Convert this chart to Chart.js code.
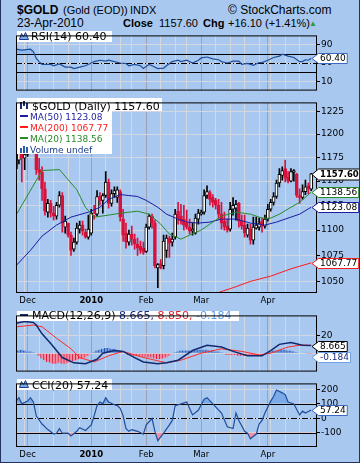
<!DOCTYPE html>
<html>
<head>
<meta charset="utf-8">
<title>$GOLD</title>
<script src="https://cdn.jsdelivr.net/npm/chart.js@4.4.0/dist/chart.umd.min.js"></script>
<style>
  html, body { margin: 0; padding: 0; }
  #wrap { position: relative; width: 360px; height: 463px; background: #a8c8f0; overflow: hidden; }
  #wrap::after { content: ""; position: absolute; left: 0; top: 0; right: 0; bottom: 0; border: 1px solid #233463; border-top: none; pointer-events: none; }
  canvas { position: absolute; left: 0; }
  .t { position: absolute; white-space: nowrap; line-height: 1; font-family: "Liberation Sans", Arial, sans-serif; color: #000; }
</style>
</head>
<body>
<div id="wrap">
  <div class="t" style="left:17px;top:4px;font-size:12px;font-weight:bold;">$GOLD</div>
  <div class="t" style="left:63px;top:5px;font-size:11px;">(Gold (EOD))</div>
  <div class="t" style="left:130px;top:5px;font-size:11px;">INDX</div>
  <div class="t" style="left:228px;top:4px;font-size:12px;">© StockCharts.com</div>
  <div class="t" style="left:17px;top:17px;font-size:12px;">23-Apr-2010</div>
  <div class="t" style="left:123px;top:18px;font-size:11px;font-weight:bold;">Close</div>
  <div class="t" style="left:159px;top:18px;font-size:11px;">1157.60</div>
  <div class="t" style="left:203px;top:18px;font-size:11px;font-weight:bold;">Chg</div>
  <div class="t" style="left:228px;top:18px;font-size:11px;">+16.10 (+1.41%)</div>
  <div class="t" style="left:309px;top:20px;font-size:8px;color:#2f9a2f;">▲</div>
  <canvas id="rsi" width="360" height="68" style="top:29px"></canvas>
  <canvas id="price" width="360" height="212" style="top:96px"></canvas>
  <canvas id="macd" width="360" height="69" style="top:309px"></canvas>
  <canvas id="cci" width="360" height="84" style="top:377px"></canvas>
</div>
<script>
// trading days shown on the chart
const months = [
  ['2009-11', [24, 25, 27, 30]],
  ['2009-12', [1, 2, 3, 4, 7, 8, 9, 10, 11, 14, 15, 16, 17, 18, 21, 22, 23, 24, 28, 29, 30, 31]],
  ['2010-01', [4, 5, 6, 7, 8, 11, 12, 13, 14, 15, 19, 20, 21, 22, 25, 26, 27, 28, 29]],
  ['2010-02', [1, 2, 3, 4, 5, 8, 9, 10, 11, 12, 16, 17, 18, 19, 22, 23, 24, 25, 26]],
  ['2010-03', [1, 2, 3, 4, 5, 8, 9, 10, 11, 12, 15, 16, 17, 18, 19, 22, 23, 24, 25, 26, 29, 30, 31]],
  ['2010-04', [1, 5, 6, 7, 8, 9, 12, 13, 14, 15, 16, 19, 20, 21, 22, 23]]
];
const monthNames = ['Jan', 'Feb', 'Mar', 'Apr', 'May', 'Jun', 'Jul', 'Aug', 'Sep', 'Oct', 'Nov', 'Dec'];

// daily candles
const opens = [1163,1172,1185,1174,1178,1199,1213,1211,1162,1159, 1142,1118,1127,1117,1114,1125,1135,1103,1107,1095,
  1081,1088,1101,1105,1098,1093,1097,1115,1116,1134, 1130,1135,1149,1127,1137,1133,1139,1111,1097,1088,
  1096,1091,1086,1084,1082,1079,1103,1114,1107,1063, 1067,1065,1080,1092,1088,1093,1119,1114,1111,1107,
  1103,1099,1097,1111,1116,1118,1135,1138,1133,1130, 1125,1116,1109,1104,1101,1121,1122,1127,1109,1105,
  1095,1101,1090,1102,1103,1109,1104,1111,1121,1128, 1134,1148,1156,1163,1154,1150,1159,1157,1135,1133,
  1139,1145,1141.5];
const highs = [1176,1188,1194,1182,1202,1216,1227,1217,1174,1165, 1149,1131,1130,1124,1128,1139,1138,1114,1107,1098,
  1092,1107,1109,1109,1101,1115,1121,1125,1140,1138, 1137,1160,1152,1141,1144,1144,1141,1121,1107,1100,
  1104,1096,1092,1089,1088,1106,1116,1116,1110,1067, 1071,1095,1095,1094,1097,1121,1128,1126,1125,1120,
  1111,1107,1116,1121,1120,1141,1145,1140,1136,1132, 1131,1128,1118,1111,1128,1133,1130,1128,1115,1115,
  1106,1106,1113,1113,1112,1112,1115,1126,1131,1138, 1151,1163,1165,1172,1160,1163,1162,1158,1142,1146,
  1151,1148,1158];
const lows = [1157,1168,1149,1162,1176,1195,1204,1157,1151,1130, 1115,1113,1113,1110,1111,1123,1098,1097,1093,1075,
  1079,1086,1097,1095,1092,1091,1095,1111,1114,1125, 1117,1133,1122,1124,1133,1128,1109,1089,1082,1085,
  1085,1081,1075,1077,1076,1078,1101,1102,1063,1044, 1062,1062,1073,1073,1084,1091,1106,1106,1100,1101,
  1096,1095,1096,1106,1115,1116,1132,1125,1123,1121, 1111,1101,1100,1098,1099,1115,1110,1103,1101,1093,
  1093,1086,1086,1101,1100,1098,1102,1109,1119,1125, 1132,1144,1151,1149,1148,1149,1150,1133,1127,1131,
  1136,1137,1140];
const closes = [1172,1185,1174,1178,1199,1213,1211,1162,1159,1142, 1119,1127,1117,1114,1125,1135,1107,1109,1095,1080,
  1088,1102,1105,1099,1093,1101,1117,1116,1134,1130, 1135,1149,1127,1137,1140,1141,1113,1095,1088,1096,
  1091,1086,1082,1080,1078,1103,1114,1107,1065,1066, 1063,1089,1092,1087,1091,1116,1112,1109,1105,1103,
  1099,1101,1112,1117,1118,1135,1139,1131,1128,1125, 1116,1107,1103,1100,1121,1125,1126,1109,1104,1097,
  1102,1090,1103,1105,1107,1104,1111,1121,1128,1134, 1148,1157,1161,1153,1150,1160,1161,1135,1133,1139,
  1144,1141.5,1157.6];

// moving averages, read at bar indices
const ma20Idx = [0, 9, 15, 21, 24, 27, 32, 36, 42, 46, 50, 53, 57, 60, 64, 67, 71, 76, 81, 85, 88, 91, 95, 98, 102];
const ma20Vals = [1115, 1161, 1162, 1141, 1123, 1113, 1115, 1117, 1119, 1116, 1106, 1096, 1091, 1095, 1100, 1106, 1114, 1118, 1116, 1112, 1112, 1116, 1123, 1128, 1138.56];
const ma50Idx = [0, 5, 9, 14, 19, 25, 29, 32, 36, 39, 42, 45, 49, 52, 56, 59, 63, 67, 71, 76, 81, 86, 90, 95, 98, 102];
const ma50Vals = [1065, 1080, 1094, 1105, 1113, 1118, 1123, 1131, 1136, 1135, 1134, 1130, 1123, 1116, 1111, 1108, 1107, 1108, 1111, 1111, 1107, 1105, 1108, 1113, 1116, 1123.08];
const ma200Idx = [64, 70, 75, 81, 88, 95, 102];
const ma200Vals = [1035, 1039.5, 1044, 1050, 1055, 1062, 1067.77];

// RSI(14)
const rsiIdx = [0,2,5,6,7,8,9,12,13,15, 17,19,20,22,24,26,27,29,31,32, 34,36,38,39,41,43,44,46,47,49,
  51,52,54,56,57,59,61,63,64,66, 68,70,71,73,75,77,78,80,82,84, 85,87,89,91,92,94,96,98,99,100, 101,102];
const rsiVals = [80,78,80,75,60,53,47,47,44,48, 41,41,38,41,44,50,53,56,54,56, 53,50,49,44,47,44,38,47,44,38,
  39,44,53,56,53,56,50,56,61,63, 59,57,53,50,54,54,47,49,45,51, 51,56,62,65,69,65,62,53,53,57, 56,60.4];

// MACD(12,26,9)
const macdIdx = [0, 3, 6, 7, 9, 12, 16, 20, 24, 28, 30, 34, 37, 41, 44, 49, 52, 56, 61, 66, 71, 75, 80, 85, 88, 91, 95, 99, 102];
const macdVals = [34, 36, 35, 32, 22, 11, -5, -11, -12, -7, 0, 3, 2, -5, -10, -12, -11, -8, 3, 9, 7, 2, -3, -3, 3, 10, 12, 9, 8.665];
const signalIdx = [0, 6, 9, 14, 19, 22, 27, 32, 37, 43, 48, 52, 57, 64, 71, 78, 84, 88, 94, 99, 102];
const signalVals = [30, 32, 30, 17, 5, -5, -10, -3, 2, -4, -8, -11, -8, 0, 5, 2, -2, 0, 7, 9.5, 8.85];
const macdHist = [3,3,4,3,2,2,1,0,
  -3,-6,-8,-10,-11,-12,-12,-11,-12,-12,-11,-10,-9,-8,-7,-6,-5,-3,
  -1,
  1,3,4,5,6,6,5,5,4,3,1,
  -1,-2,-3,-3,-3,-4,-4,-4,-5,-5,-6,-7,-7,-6,-5,-3,-1,
  1,2,3,3,3,3,3,3,4,4,4,4,3,3,2,2,1,
  -1,-2,-2,-2,-2,-3,-3,-3,-3,-3,-2,-2,-1,-1,-0.5,
  1,2,3,3,4,4,4,3,3,2,1,0.5,0,0.2,-0.1,-0.184];

// CCI(20)
const cciIdx = [0,1,2,4,5,6,7,9,11,13, 14,15,16,18,19,21,22,23,24,26, 27,28,29,30,31,32,34,35,36,37,
  38,39,40,42,44,45,47,48,49,51, 53,54,55,57,59,61,63,65,66,68, 71,73,75,76,77,79,80,81,83,84,
  85,86,88,89,90,92,93,94,96,98, 99,100,102];
const cciVals = [118,142,99,118,142,112,17,-40,-78,-109, -103,-71,-103,-103,-122,-90,-65,-74,-84,-46,
  17,87,112,99,142,112,93,87,68,17, -71,-90,-78,-90,-109,-46,-2,-90,-154,-103,
  -46,-15,87,99,112,23,55,131,142,99, 36,-59,-71,36,-15,-90,-103,-141,-109,-40,
  -15,36,118,150,194,175,163,112,99,23, 49,36,57.24];

const priceTicks = [1050, 1075, 1100, 1125, 1150, 1175, 1200, 1225];
const rsiTicks = [10, 30, 50, 70, 90];
const macdTicks = [0, 20];
const cciTicks = [-100, 0, 100, 200];

const RED = '#d8123c';
const NAVY = '#1c1ca0';
const GREEN = '#2a8a2a';
const MA_RED = '#ff1a1a';
const LINE_BLUE = '#1f4e9a';

Chart.defaults.font.family = 'DejaVu Sans';
Chart.defaults.color = '#000';

// categories
const isoDays = [];
months.forEach(([ym, ds]) => ds.forEach(d => isoDays.push(ym + '-' + String(d).padStart(2, '0'))));
const xLabels = isoDays.concat([' ', '  ']);
const dayOfWeek = isoDays.map(s => new Date(s + 'T12:00:00').getDay());
const weekStart = isoDays.map((s, i) => i === 0 || dayOfWeek[i] <= dayOfWeek[i - 1] ||
  (Date.parse(s) - Date.parse(isoDays[i - 1])) >= 7 * 864e5);
const monthStart = isoDays.map((s, i) => i > 0 && s.slice(0, 7) !== isoDays[i - 1].slice(0, 7));
const tickText = isoDays.map((s, i) => {
  if (!monthStart[i]) return '';
  const m = +s.slice(5, 7);
  return m === 1 ? s.slice(0, 4) : monthNames[m - 1];
});

function gridColor(i) {
  if (i >= isoDays.length) return 'rgba(0,0,0,0)';
  if (monthStart[i]) return '#9aa2b4';
  if (weekStart[i]) return '#d3d7e0';
  return 'rgba(0,0,0,0)';
}

const pts = (idx, vals) => idx.map((k, j) => ({ x: xLabels[k], y: vals[j] }));

// candle colours: red when close is below previous close, filled when close below open
const candleColor = closes.map((c, i) => c < (i ? closes[i - 1] : opens[i]) ? RED : '#000');
const bodyFill = closes.map((c, i) => c < opens[i] ? candleColor[i] : '#fff');

function xAxis(h) {
  return {
    type: 'category',
    offset: false,
    border: { display: false },
    grid: { offset: false, drawTicks: false, color: c => gridColor(c.index) },
    ticks: {
      display: h > 0,
      autoSkip: false,
      maxRotation: 0,
      padding: 3,
      callback: (v, i) => tickText[i] || '',
      font: c => ({ family: 'DejaVu Sans', size: 8.5, weight: /^\d/.test(tickText[c.index] || '') ? 'bold' : 'normal' })
    },
    afterFit: s => { s.height = h; }
  };
}

function yAxis(extra, tickValues) {
  return Object.assign({
    position: 'right',
    border: { display: false },
    grid: { color: '#d3d7e0', tickLength: 3, tickColor: '#000', drawTicks: true },
    ticks: { padding: 1, font: { family: 'DejaVu Sans', size: 9 }, color: '#000', callback: v => String(v) },
    afterBuildTicks: s => { s.ticks = tickValues.map(v => ({ value: v })); },
    afterFit: s => { s.width = 43; }
  }, extra);
}

function txt(ctx, s, x, y, color, size, bold) {
  ctx.font = (bold ? 'bold ' : '') + size + 'px "DejaVu Sans"';
  ctx.fillStyle = color;
  ctx.textBaseline = 'alphabetic';
  ctx.textAlign = 'left';
  ctx.fillText(s, x, y);
  return x + ctx.measureText(s).width;
}

function mountainIcon(ctx, x, y) {
  ctx.beginPath();
  ctx.moveTo(x, y + 7);
  ctx.lineTo(x + 2, y + 1);
  ctx.lineTo(x + 4, y + 4);
  ctx.lineTo(x + 6, y);
  ctx.lineTo(x + 9, y + 7);
  ctx.closePath();
  ctx.fillStyle = '#7aaae8';
  ctx.fill();
  ctx.strokeStyle = '#1f3f8f';
  ctx.lineWidth = 1;
  ctx.stroke();
}

function rsiLegend(ctx) {
  ctx.fillStyle = '#fff';
  ctx.fillRect(17, 31, 95, 11);
  mountainIcon(ctx, 19.5, 32.5);
  txt(ctx, 'RSI(14) 60.40', 31, 40, '#000', 11);
}

function priceLegend(ctx) {
  ctx.fillStyle = '#fff';
  ctx.fillRect(17, 98, 145, 13);
  ctx.fillRect(17, 111, 95, 43);
  ctx.fillStyle = '#1a2a6a';
  ctx.fillRect(20, 102, 2, 7);
  ctx.fillRect(23, 101, 2, 5);
  ctx.fillRect(26, 103, 2, 6);
  txt(ctx, '$GOLD (Daily) 1157.60', 32, 109.5, '#000', 11);
  ctx.fillStyle = NAVY; ctx.fillRect(20, 115, 8, 2);
  txt(ctx, 'MA(50) 1123.08', 30, 119.5, NAVY, 9);
  ctx.fillStyle = MA_RED; ctx.fillRect(20, 126, 8, 2);
  txt(ctx, 'MA(200) 1067.77', 30, 130.5, MA_RED, 9);
  ctx.fillStyle = GREEN; ctx.fillRect(20, 137, 8, 2);
  txt(ctx, 'MA(20) 1138.56', 30, 141.5, GREEN, 9);
  ctx.fillStyle = '#2a5ab0';
  ctx.fillRect(20, 148, 2, 5);
  ctx.fillRect(23, 146, 2, 7);
  ctx.fillRect(26, 147, 2, 6);
  txt(ctx, 'Volume undef', 30, 152.5, '#1a3a8a', 9);
}

function macdLegend(ctx) {
  ctx.fillStyle = '#fff';
  ctx.fillRect(17, 311, 222, 10);
  ctx.fillStyle = '#122a6e';
  ctx.fillRect(20, 314, 8, 2);
  let x = txt(ctx, 'MACD(12,26,9) ', 32, 318.5, '#000', 11);
  x = txt(ctx, '8.665, ', x, 318.5, '#1a2a7a', 11);
  x = txt(ctx, '8.850, ', x, 318.5, '#e0202a', 11);
  txt(ctx, '-0.184', x, 318.5, '#5a9ae8', 11);
}

function cciLegend(ctx) {
  ctx.fillStyle = '#fff';
  ctx.fillRect(17, 379, 95, 11);
  mountainIcon(ctx, 19.5, 380.5);
  txt(ctx, 'CCI(20) 57.24', 32, 388.5, '#000', 11);
}

const panelCfg = {
  rsi: { top: 29, solid: [30, 70], dashed: [50], legend: rsiLegend,
    tags: [{ v: 60.4, text: '60.40', color: '#3a6ac0' }] },
  price: { top: 96, solid: [], dashed: [], legend: priceLegend,
    tags: [
      { v: 1157.6, text: '1157.60', color: '#000', bold: true },
      { v: 1138.56, text: '1138.56', color: GREEN },
      { v: 1123.08, text: '1123.08', color: NAVY },
      { v: 1067.77, text: '1067.77', color: MA_RED }
    ] },
  macd: { top: 309, solid: [], dashed: [], legend: macdLegend,
    tags: [
      { v: 8.665, text: '8.665', color: '#000' },
      { v: -0.184, text: '-0.184', color: '#6fa0e0', textColor: '#1a2a7a' }
    ] },
  cci: { top: 377, solid: [-100, 100], dashed: [0], legend: cciLegend,
    tags: [{ v: 57.24, text: '57.24', color: '#3a6ac0' }] }
};

function drawTags(ctx, a, y, tags) {
  let prev = -1e9;
  tags.forEach(t => {
    ctx.font = (t.bold ? 'bold 8.5px' : '9px') + ' "DejaVu Sans"';
    const h = t.bold ? 11 : 10;
    const w = ctx.measureText(t.text).width + 3;
    let cy = Math.round(y.getPixelForValue(t.v));
    if (cy - prev < h + 1) cy = prev + h + 1;
    prev = cy;
    const x0 = a.right + 1;
    const top = cy - h / 2;
    ctx.beginPath();
    ctx.moveTo(a.right - 5, cy + 0.5);
    ctx.lineTo(x0 + 0.5, top + 0.5);
    ctx.lineTo(x0 + w + 0.5, top + 0.5);
    ctx.lineTo(x0 + w + 0.5, top + h + 0.5);
    ctx.lineTo(x0 + 0.5, top + h + 0.5);
    ctx.closePath();
    ctx.fillStyle = '#fff';
    ctx.fill();
    ctx.strokeStyle = t.color;
    ctx.lineWidth = 1;
    ctx.stroke();
    ctx.fillStyle = t.textColor || '#000';
    ctx.textBaseline = 'middle';
    ctx.textAlign = 'left';
    ctx.fillText(t.text, x0 + 2, cy + 1);
  });
}

const panelPlugin = {
  id: 'panel',
  beforeDatasetsDraw(chart) {
    const cfg = panelCfg[chart.canvas.id];
    const { ctx, chartArea: a } = chart;
    const y = chart.scales.y;
    ctx.save();
    ctx.strokeStyle = '#000';
    ctx.lineWidth = 1;
    const line = (v, dash) => {
      const py = Math.round(y.getPixelForValue(v)) + 0.5;
      ctx.setLineDash(dash);
      ctx.beginPath();
      ctx.moveTo(a.left, py);
      ctx.lineTo(a.right, py);
      ctx.stroke();
    };
    cfg.solid.forEach(v => line(v, []));
    cfg.dashed.forEach(v => line(v, [6, 2, 1, 2]));
    ctx.restore();
  },
  afterDraw(chart) {
    const cfg = panelCfg[chart.canvas.id];
    const { ctx, chartArea: a } = chart;
    ctx.save();
    ctx.translate(0, -cfg.top);
    cfg.legend(ctx);
    ctx.restore();
    ctx.save();
    ctx.strokeStyle = '#000';
    ctx.lineWidth = 1;
    ctx.strokeRect(a.left + 0.5, a.top + 0.5, a.right - a.left - 1, a.bottom - a.top - 1);
    drawTags(ctx, a, chart.scales.y, cfg.tags);
    ctx.restore();
  }
};

function panel(id, type, datasets, yCfg, tickValues, xH) {
  return new Chart(document.getElementById(id), {
    type: type,
    data: { labels: xLabels, datasets: datasets },
    options: {
      responsive: false,
      animation: false,
      devicePixelRatio: 1,
      layout: { padding: { left: 16, right: 0, top: 1, bottom: xH ? 0 : 1 } },
      plugins: { legend: { display: false }, tooltip: { enabled: false } },
      scales: { x: xAxis(xH), y: yAxis(yCfg, tickValues) }
    },
    plugins: [panelPlugin]
  });
}

const lineDs = (data, color, width, order) => ({
  type: 'line', data: data, borderColor: color, borderWidth: width,
  pointRadius: 0, tension: 0, fill: false, order: order
});

// RSI
panel('rsi', 'line', [
  Object.assign(lineDs(pts(rsiIdx, rsiVals), LINE_BLUE, 1.2, 1), {
    fill: { target: { value: 70 }, above: '#8db8ee', below: 'rgba(0,0,0,0)' }
  })
], { min: -10, max: 110 }, rsiTicks, 0);

// price
panel('price', 'bar', [
  { type: 'bar', data: lows.map((l, i) => [l, highs[i]]), backgroundColor: candleColor,
    barThickness: 1, grouped: false, order: 6 },
  { type: 'bar', data: opens.map((o, i) => [Math.min(o, closes[i]), Math.max(o, closes[i])]),
    backgroundColor: bodyFill, borderColor: candleColor, borderWidth: 1, borderSkipped: false,
    barThickness: 3, minBarLength: 1, grouped: false, order: 5 },
  lineDs(pts(ma200Idx, ma200Vals), MA_RED, 1, 3),
  lineDs(pts(ma50Idx, ma50Vals), NAVY, 1, 2),
  lineDs(pts(ma20Idx, ma20Vals), GREEN, 1, 1)
], { type: 'logarithmic', min: 1039, max: 1235 }, priceTicks, 15);

// MACD
panel('macd', 'bar', [
  { type: 'bar', data: macdHist,
    backgroundColor: macdHist.map(v => v >= 0 ? '#6b9ae6' : '#f58ea2'),
    borderColor: macdHist.map(v => v >= 0 ? '#2a4f9a' : '#d81e40'),
    borderWidth: { left: 1, right: 0, top: 0, bottom: 0 }, borderSkipped: false,
    barThickness: 3, grouped: false, order: 3 },
  lineDs(pts(signalIdx, signalVals), '#ff2a2a', 1, 2),
  lineDs(pts(macdIdx, macdVals), '#122a6e', 1.5, 1)
], { min: -21, max: 43 }, macdTicks, 0);

// CCI
panel('cci', 'line', [
  Object.assign(lineDs(pts(cciIdx, cciVals), LINE_BLUE, 1.2, 1), {
    fill: { target: { value: 100 }, above: '#7aaae8', below: 'rgba(0,0,0,0)' }
  }),
  Object.assign(lineDs(pts(cciIdx, cciVals), 'rgba(0,0,0,0)', 0, 2), {
    fill: { target: { value: -100 }, above: 'rgba(0,0,0,0)', below: '#f090a8' }
  })
], { min: -198, max: 240 }, cciTicks, 14);
</script>
</body>
</html>
